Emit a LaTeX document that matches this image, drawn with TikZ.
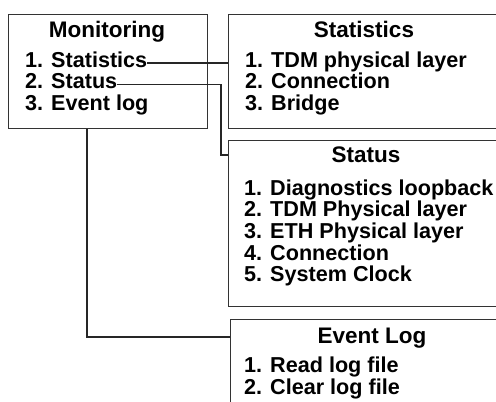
\documentclass[tikz,border=0pt]{standalone}
\usepackage{fontspec}
\setmainfont{Liberation Sans}
\begin{document}
\begin{tikzpicture}[x=1pt,y=-1pt,
  box/.style={draw=black!80, line width=1.3pt, inner sep=0pt, anchor=north west},
  ttl/.style={font=\fontsize{22.5}{22.5}\selectfont\bfseries, anchor=base, inner sep=0pt},
  itm/.style={font=\fontsize{21.6}{21.6}\selectfont\bfseries, anchor=base west, inner sep=0pt},
  conn/.style={draw=black!85, line width=1.2pt}]
\useasboundingbox (0,0) rectangle (496,402);
\clip (0,0) rectangle (496,402);
% boxes
\node[box, minimum width=199pt, minimum height=114pt] (mon) at (8,14) {};
\node[box, minimum width=272pt, minimum height=114pt] (stat) at (228,14) {};
\node[box, minimum width=276pt, minimum height=166pt] (sts) at (228,140) {};
\node[box, minimum width=284pt, minimum height=110pt] (ev) at (230,319) {};
% titles
\node[ttl] (tmon) at (107,37) {Monitoring};
\node[ttl] (tstat) at (364,37) {Statistics};
\node[ttl] (tsts) at (366,162) {Status};
\node[ttl] (tev) at (372,343) {Event Log};
% Monitoring items
\node[itm] (m1) at (25,67) {1. Statistics};
\node[itm] (m2) at (25,88.5) {2. Status};
\node[itm] (m3) at (25,110) {3. Event log};
% Statistics items
\node[itm] (s1) at (245,67) {1. TDM physical layer};
\node[itm] (s2) at (245,88.5) {2. Connection};
\node[itm] (s3) at (245,110) {3. Bridge};
% Status items
\node[itm] (t1) at (244,195) {1. Diagnostics loopback};
\node[itm] (t2) at (244,216.7) {2. TDM Physical layer};
\node[itm] (t3) at (244,238.4) {3. ETH Physical layer};
\node[itm] (t4) at (244,260.1) {4. Connection};
\node[itm] (t5) at (244,281.8) {5. System Clock};
% Event log items
\node[itm] (e1) at (244,372) {1. Read log file};
\node[itm] (e2) at (244,394) {2. Clear log file};
% connectors
\coordinate (c1) at ([yshift=4pt]m1.base east);
\draw[conn] (c1) -- (c1 -| stat.west);
\coordinate (c2) at ([yshift=4pt]m2.base east);
\coordinate (c2b) at (221,155);
\draw[conn] (c2) -| (c2b) -- (c2b -| sts.west);
\coordinate (c3) at (87,337);
\draw[conn] (c3 |- mon.south) -- (c3) -- (c3 -| ev.west);
\end{tikzpicture}
\end{document}
